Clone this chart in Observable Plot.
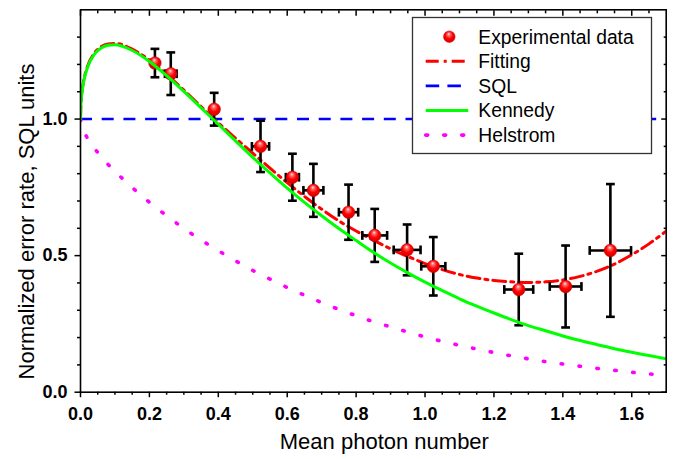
<!DOCTYPE html>
<html>
<head>
<meta charset="utf-8">
<script src="https://cdn.jsdelivr.net/npm/d3@7"></script>
<script src="https://cdn.jsdelivr.net/npm/@observablehq/plot@0.6"></script>
<style>
  html, body { margin: 0; padding: 0; background: #fff; }
  #chart { width: 677px; height: 459px; }
</style>
</head>
<body>
<div id="chart"></div>
<script>
// ---------- data ----------
const expX    = [0.216, 0.262, 0.388, 0.5225, 0.615, 0.676, 0.778, 0.854, 0.948, 1.024, 1.272, 1.408, 1.538];
const expY    = [1.205, 1.166, 1.036, 0.900, 0.787, 0.739, 0.659, 0.574, 0.521, 0.461, 0.376, 0.387, 0.519];
const expXErr = [0, 0.017, 0, 0.025, 0.019, 0.029, 0.028, 0.036, 0.039, 0.035, 0.042, 0.046, 0.060];
const expYErr = [0.052, 0.078, 0.060, 0.094, 0.086, 0.097, 0.101, 0.097, 0.093, 0.107, 0.131, 0.150, 0.243];

const curveX    = [0, 0.001, 0.002, 0.005, 0.01, 0.02, 0.04, 0.06, 0.08, 0.1, 0.15, 0.2, 0.25, 0.3, 0.35, 0.4, 0.45, 0.5, 0.55, 0.6, 0.65, 0.7, 0.75, 0.8, 0.85, 0.9, 0.95, 1.0, 1.05, 1.1, 1.15, 1.2, 1.25, 1.3, 1.35, 1.4, 1.45, 1.5, 1.55, 1.6, 1.65, 1.7];
const kennedyY  = [1.0, 1.049, 1.068, 1.104, 1.142, 1.188, 1.237, 1.260, 1.270, 1.272, 1.251, 1.211, 1.159, 1.101, 1.041, 0.981, 0.920, 0.860, 0.803, 0.747, 0.695, 0.646, 0.599, 0.555, 0.512, 0.473, 0.437, 0.403, 0.372, 0.342, 0.315, 0.290, 0.266, 0.244, 0.225, 0.206, 0.189, 0.174, 0.159, 0.146, 0.134, 0.122];
const fittingY  = [1.0, 1.052, 1.071, 1.107, 1.145, 1.192, 1.241, 1.265, 1.275, 1.277, 1.256, 1.216, 1.164, 1.106, 1.046, 0.986, 0.930, 0.875, 0.820, 0.767, 0.717, 0.670, 0.627, 0.590, 0.557, 0.525, 0.497, 0.471, 0.449, 0.431, 0.418, 0.409, 0.404, 0.402, 0.404, 0.411, 0.424, 0.443, 0.469, 0.503, 0.543, 0.590];
const helstromY = [1.0, 0.987, 0.981, 0.968, 0.953, 0.930, 0.893, 0.862, 0.834, 0.808, 0.749, 0.695, 0.646, 0.599, 0.557, 0.518, 0.481, 0.446, 0.414, 0.383, 0.355, 0.328, 0.303, 0.280, 0.258, 0.239, 0.220, 0.202, 0.186, 0.1715, 0.158, 0.145, 0.133, 0.122, 0.112, 0.103, 0.095, 0.087, 0.080, 0.073, 0.067, 0.061];
const sqlY = [1.0];

const xMajor = [0, 0.2, 0.4, 0.6, 0.8, 1.0, 1.2, 1.4, 1.6];
const xMinor = [0.05, 0.1, 0.15, 0.25, 0.3, 0.35, 0.45, 0.5, 0.55, 0.65, 0.7, 0.75, 0.85, 0.9, 0.95, 1.05, 1.1, 1.15, 1.25, 1.3, 1.35, 1.45, 1.5, 1.55, 1.65];
const yMajor = [0, 0.5, 1.0];
const yMinor = [0.1, 0.2, 0.3, 0.4, 0.6, 0.7, 0.8, 0.9, 1.1, 1.2, 1.3];

const xLabel = "Mean photon number";
const yLabel = "Normalized error rate, SQL units";
const legendLabels = ["Experimental data", "Fitting", "SQL", "Kennedy", "Helstrom"];

// ---------- build tables ----------
const exp = expX.map((x, i) => ({x, y: expY[i], xe: expXErr[i], ye: expYErr[i]}));
const expH = exp.filter(d => d.xe > 0);
const kennedy = curveX.map((x, i) => ({x, y: kennedyY[i]}));
const fitting = curveX.map((x, i) => ({x, y: fittingY[i]}));
const helstrom = curveX.map((x, i) => ({x, y: helstromY[i]}));

// ---------- styles ----------
const FONT = "'Liberation Sans', Arial, Helvetica, sans-serif";
const RED = "#ff0000", BLUE = "#0000ff", GREEN = "#00ff00", MAGENTA = "#ff00ff";
const DASH_FIT = "13,5,3,5", DASH_SQL = "12,9.7", DASH_HEL = "1.5,16.5";

const hcap = {draw(ctx, size) { const r = Math.sqrt(size / Math.PI); ctx.moveTo(-r, 0); ctx.lineTo(r, 0); }};
const vcap = {draw(ctx, size) { const r = Math.sqrt(size / Math.PI); ctx.moveTo(0, -r); ctx.lineTo(0, r); }};
const blank = () => "";

const plot = Plot.plot({
  width: 677,
  height: 459,
  marginLeft: 80,
  marginRight: 11.3,
  marginTop: 9.3,
  marginBottom: 67.3,
  style: {fontFamily: FONT, fontSize: "18px", fontWeight: "bold", color: "black", background: "white", overflow: "visible"},
  x: {domain: [0, 1.7]},
  y: {domain: [0, 1.4]},
  marks: [
    Plot.ruleY(sqlY, {stroke: BLUE, strokeWidth: 2.6, strokeDasharray: DASH_SQL}),
    Plot.line(helstrom, {x: "x", y: "y", stroke: MAGENTA, strokeWidth: 3.6, strokeDasharray: DASH_HEL, strokeLinecap: "round", clip: true}),
    Plot.line(fitting, {x: "x", y: "y", stroke: RED, strokeWidth: 3, strokeDasharray: DASH_FIT, curve: "monotone-x", clip: true}),
    // error bars
    Plot.ruleX(exp, {x: "x", y1: d => d.y - d.ye, y2: d => d.y + d.ye, stroke: "black", strokeWidth: 2.6}),
    Plot.ruleY(expH, {y: "y", x1: d => d.x - d.xe, x2: d => d.x + d.xe, stroke: "black", strokeWidth: 2.6}),
    Plot.dot(exp, {x: "x", y: d => d.y + d.ye, symbol: hcap, r: 4.4, stroke: "black", fill: "none", strokeWidth: 2.6}),
    Plot.dot(exp, {x: "x", y: d => d.y - d.ye, symbol: hcap, r: 4.4, stroke: "black", fill: "none", strokeWidth: 2.6}),
    Plot.dot(expH, {x: d => d.x + d.xe, y: "y", symbol: vcap, r: 4.4, stroke: "black", fill: "none", strokeWidth: 2.6}),
    Plot.dot(expH, {x: d => d.x - d.xe, y: "y", symbol: vcap, r: 4.4, stroke: "black", fill: "none", strokeWidth: 2.6}),
    // markers
    Plot.dot(exp, {x: "x", y: "y", r: 6.3, fill: "url(#ball)", stroke: "#d00000", strokeWidth: 0.5}),
    Plot.line(kennedy, {x: "x", y: "y", stroke: GREEN, strokeWidth: 3, curve: "monotone-x", clip: true}),
    Plot.frame({stroke: "black", strokeWidth: 1.6}),
    // axes
    Plot.axisX(xMajor, {anchor: "bottom", tickSize: 5.5, tickPadding: 9.5, tickFormat: d3.format(".1f"), strokeWidth: 1.5, label: null}),
    Plot.axisX(xMinor, {anchor: "bottom", tickSize: 3, tickFormat: blank, strokeWidth: 1.5, label: null}),
    Plot.axisX(xMajor, {anchor: "top", tickSize: -5.5, tickFormat: blank, strokeWidth: 1.5, label: null}),
    Plot.axisX(xMinor, {anchor: "top", tickSize: -3, tickFormat: blank, strokeWidth: 1.5, label: null}),
    Plot.axisY(yMajor, {anchor: "left", tickSize: 5.5, tickPadding: 7.5, tickFormat: d3.format(".1f"), strokeWidth: 1.5, label: null}),
    Plot.axisY(yMinor, {anchor: "left", tickSize: 3, tickFormat: blank, strokeWidth: 1.5, label: null}),
    Plot.axisY(yMajor, {anchor: "right", tickSize: -5.5, tickFormat: blank, strokeWidth: 1.5, label: null}),
    Plot.axisY(yMinor, {anchor: "right", tickSize: -3, tickFormat: blank, strokeWidth: 1.5, label: null}),
    // axis titles
    Plot.text([xLabel], {frameAnchor: "bottom", textAnchor: "middle", dx: 11, dy: 56.5, lineAnchor: "bottom", fontSize: 22, fontWeight: "normal", fill: "black"}),
    Plot.text([yLabel], {frameAnchor: "left", textAnchor: "middle", rotate: -90, dx: -47, dy: 20.5, lineAnchor: "bottom", fontSize: 22, fontWeight: "normal", fill: "black"})
  ]
});

// ---------- gradient for the 3D ball markers ----------
const svg = d3.select(plot);
const defs = svg.insert("defs", ":first-child");
const grad = defs.append("radialGradient").attr("id", "ball")
  .attr("cx", "50%").attr("cy", "45%").attr("r", "60%").attr("fx", "45%").attr("fy", "25%");
[["0%", "#ffeaea"], ["22%", "#ff6a6a"], ["55%", "#ff0000"], ["100%", "#c80000"]]
  .forEach(([o, c]) => grad.append("stop").attr("offset", o).attr("stop-color", c));

// ---------- legend (inside plot, top right) ----------
const legendStyles = [
  {kind: "dot"},
  {kind: "line", stroke: RED, dash: DASH_FIT, width: 3},
  {kind: "line", stroke: BLUE, dash: "13.5,8.2", width: 2.6},
  {kind: "line", stroke: GREEN, dash: null, width: 3},
  {kind: "line", stroke: MAGENTA, dash: "2,16", width: 3.6, cap: "round"}
];
const lg = svg.append("g").attr("font-family", FONT).attr("font-weight", "normal").attr("text-anchor", "start");
lg.append("rect").attr("x", 412.5).attr("y", 17.5).attr("width", 239).attr("height", 136)
  .attr("fill", "white").attr("stroke", "#333").attr("stroke-width", 1.3);
legendLabels.forEach((label, i) => {
  const cy = 36.7 + i * 24.6;
  const st = legendStyles[i];
  if (st.kind === "dot") {
    lg.append("circle").attr("cx", 449.3).attr("cy", cy).attr("r", 5.8)
      .attr("fill", "url(#ball)").attr("stroke", "#d00000").attr("stroke-width", 0.5);
  } else {
    const ln = lg.append("line").attr("x1", 425.7).attr("x2", 468.3).attr("y1", cy).attr("y2", cy)
      .attr("stroke", st.stroke).attr("stroke-width", st.width);
    if (st.dash) ln.attr("stroke-dasharray", st.dash);
    if (st.cap) ln.attr("stroke-linecap", st.cap);
  }
  lg.append("text").attr("x", 478.3).attr("y", cy + 6.8).attr("text-anchor", "start")
    .attr("font-size", 19.3).attr("fill", "black").text(label);
});

document.getElementById("chart").appendChild(plot);
</script>
</body>
</html>
